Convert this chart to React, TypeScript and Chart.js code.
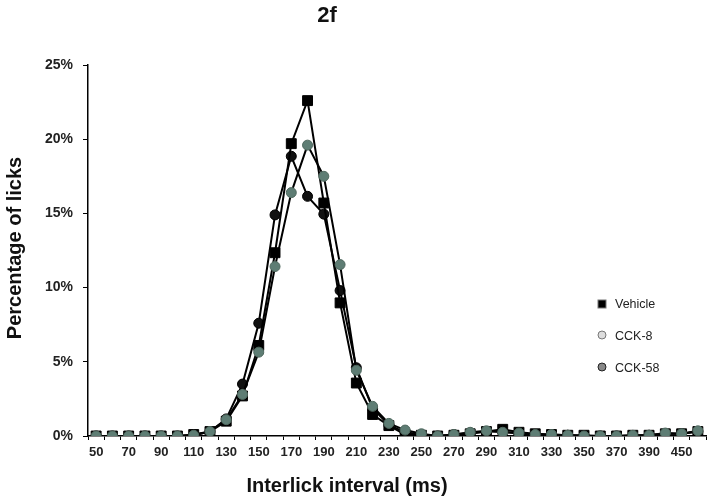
import React, { useEffect, useRef } from "react";
import { Chart, registerables } from "chart.js";

Chart.register(...registerables);

const FONT = "'Liberation Sans', Arial, Helvetica, sans-serif";

const categories = [
  "50", "60", "70", "80", "90", "100", "110", "120", "130", "140",
  "150", "160", "170", "180", "190", "200", "210", "220", "230", "240",
  "250", "260", "270", "280", "290", "300", "310", "320", "330", "340",
  "350", "360", "370", "380", "390", "400", "450", "460",
];

const vehicle = [
  0, 0, 0, 0, 0, 0, 0.1, 0.3, 1.0, 2.7,
  6.1, 12.35, 19.7, 22.6, 15.7, 8.97, 3.57, 1.45, 0.7, 0.1,
  0.05, 0, 0.05, 0.15, 0.3, 0.45, 0.25, 0.15, 0.1, 0.05,
  0.05, 0, 0, 0.05, 0.05, 0.15, 0.15, 0.3,
];

const cck8 = [
  0, 0, 0, 0, 0, 0, 0.05, 0.3, 1.1, 2.8,
  5.65, 11.42, 16.4, 19.6, 17.5, 11.55, 4.43, 2.0, 0.85, 0.4,
  0.15, 0, 0.1, 0.25, 0.35, 0.25, 0.2, 0.1, 0.1, 0.05,
  0, 0, 0, 0.05, 0.05, 0.2, 0.15, 0.35,
];

const cck58 = [
  0, 0, 0, 0, 0, 0, 0.05, 0.3, 1.15, 3.5,
  7.6, 14.9, 18.85, 16.15, 14.95, 9.8, 4.6, 1.85, 0.75, 0.25,
  0.1, 0, 0.1, 0.2, 0.3, 0.3, 0.15, 0.1, 0.05, 0.05,
  0, 0, 0, 0, 0.05, 0.15, 0.15, 0.3,
];

const seriesNames = ["Vehicle", "CCK-8", "CCK-58"];
const chartTitle = "2f";
const xTitle = "Interlick interval (ms)";
const yTitle = "Percentage of licks";

const textPlugin = {
  id: "customText",
  afterDraw(chart: any) {
    const ctx = chart.ctx;
    ctx.save();
    ctx.fillStyle = "#111";
    ctx.textAlign = "center";
    ctx.textBaseline = "middle";
    ctx.font = `bold 22px ${FONT}`;
    ctx.fillText(chartTitle, 327, 16);
    ctx.font = `bold 20px ${FONT}`;
    ctx.fillText(xTitle, 347, 486);
    ctx.translate(15, 248);
    ctx.rotate(-Math.PI / 2);
    ctx.fillText(yTitle, 0, 0);
    ctx.restore();

    // legend
    ctx.save();
    ctx.font = `12.5px ${FONT}`;
    ctx.textAlign = "left";
    ctx.textBaseline = "middle";
    const items = [
      { y: 304, shape: "square", fill: "#000", stroke: "#777" },
      { y: 336, shape: "circle", fill: "#dddddd", stroke: "#777" },
      { y: 368, shape: "circle", fill: "#888888", stroke: "#222" },
    ];
    items.forEach((it, i) => {
      ctx.lineWidth = 1;
      ctx.fillStyle = it.fill;
      ctx.strokeStyle = it.stroke;
      if (it.shape === "square") {
        ctx.fillRect(598, it.y - 4, 8, 8);
        ctx.strokeRect(598, it.y - 4, 8, 8);
      } else {
        ctx.beginPath();
        ctx.arc(602, it.y - 1, 4, 0, Math.PI * 2);
        ctx.fill();
        ctx.stroke();
      }
      ctx.fillStyle = "#222";
      ctx.fillText(seriesNames[i], 615, it.y + 1);
    });
    ctx.restore();
  },
};

export default function App() {
  const canvasRef = useRef<HTMLCanvasElement | null>(null);

  useEffect(() => {
    const canvas = canvasRef.current;
    if (!canvas) return;
    const chart = new Chart(canvas, {
      type: "line",
      data: {
        labels: categories,
        datasets: [
          {
            label: seriesNames[0],
            data: vehicle,
            borderColor: "#000",
            borderWidth: 2,
            pointStyle: "rect",
            pointRadius: 7,
            pointBackgroundColor: "#000",
            pointBorderColor: "#000",
            pointBorderWidth: 1,
            order: 1,
          },
          {
            label: seriesNames[1],
            data: cck8,
            borderColor: "#000",
            borderWidth: 2,
            pointStyle: "circle",
            pointRadius: 5,
            pointBackgroundColor: "#5e7d74",
            pointBorderColor: "#50695f",
            pointBorderWidth: 1,
            order: 0,
          },
          {
            label: seriesNames[2],
            data: cck58,
            borderColor: "#000",
            borderWidth: 2,
            pointStyle: "circle",
            pointRadius: 5,
            pointBackgroundColor: "#111",
            pointBorderColor: "#000",
            pointBorderWidth: 1,
            order: 2,
          },
        ],
      },
      options: {
        responsive: false,
        animation: false,
        devicePixelRatio: 1,
        layout: { padding: { top: 65, right: 3, bottom: 0, left: 0 } },
        plugins: {
          legend: { display: false },
          title: { display: false },
          tooltip: { enabled: false },
        },
        scales: {
          x: {
            type: "category",
            offset: true,
            grid: {
              offset: true,
              drawOnChartArea: false,
              drawTicks: true,
              tickLength: 4,
              color: "#000",
            },
            border: { color: "#000", width: 1.5 },
            ticks: {
              autoSkip: false,
              maxRotation: 0,
              padding: 5,
              color: "#222",
              font: { family: FONT, size: 13, weight: "bold" },
              callback: (_v: any, i: number) => (i % 2 === 0 ? categories[i] : ""),
            },
            afterFit: (scale: any) => {
              scale.height = 65;
            },
          },
          y: {
            min: 0,
            max: 25,
            grid: {
              drawOnChartArea: false,
              drawTicks: true,
              tickLength: 5,
              color: "#000",
            },
            border: { color: "#000", width: 1.5 },
            ticks: {
              stepSize: 5,
              padding: 10,
              color: "#222",
              font: { family: FONT, size: 14, weight: "bold" },
              callback: (v: any) => `${v}%`,
            },
            afterFit: (scale: any) => {
              scale.width = 88;
            },
          },
        },
      },
      plugins: [textPlugin],
    });
    return () => chart.destroy();
  }, []);

  return (
    <div style={{ position: "absolute", left: 0, top: 0, width: 714, height: 501, background: "#fff" }}>
      <canvas ref={canvasRef} width={714} height={501} style={{ display: "block" }} />
    </div>
  );
}
